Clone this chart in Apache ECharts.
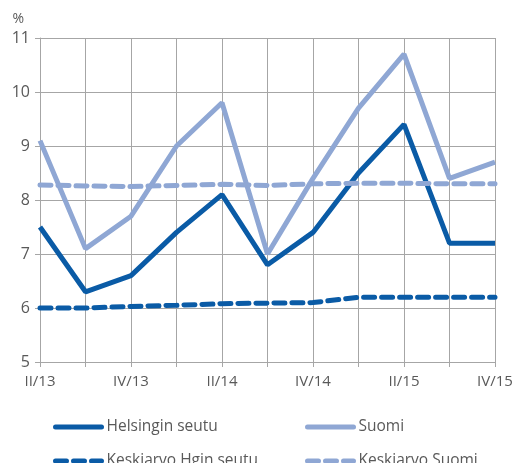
<!DOCTYPE html>
<html>
<head>
<meta charset="utf-8">
<script src="https://cdn.jsdelivr.net/npm/echarts@6/dist/echarts.min.js"></script>
<style>
  html, body { margin: 0; padding: 0; background: #fff; }
  #chart { width: 516px; height: 463px; }
</style>
</head>
<body>
<div id="chart"></div>
<script>
  // quarters
  var categories = ['II/13', 'III/13', 'IV/13', 'I/14', 'II/14', 'III/14', 'IV/14', 'I/15', 'II/15', 'III/15', 'IV/15'];
  var helsinki = [7.5, 6.3, 6.6, 7.4, 8.1, 6.8, 7.4, 8.5, 9.4, 7.2, 7.2];
  var suomi = [9.1, 7.1, 7.7, 9.0, 9.8, 7.0, 8.4, 9.7, 10.7, 8.4, 8.7];
  var avgHelsinki = [6.0, 6.0, 6.03, 6.05, 6.08, 6.09, 6.1, 6.2, 6.2, 6.2, 6.2];
  var avgSuomi = [8.28, 8.26, 8.25, 8.27, 8.29, 8.27, 8.3, 8.31, 8.31, 8.3, 8.3];

  var dark = '#0a5ba6';
  var light = '#8fa7d4';
  var textColor = '#595959';
  var font = 'Open Sans';

  function line(name, data, color, dashed) {
    return {
      name: name,
      type: 'line',
      data: data,
      showSymbol: false,
      symbol: 'none',
      lineStyle: {
        color: color,
        width: 5,
        type: dashed ? [11, 7] : 'solid',
        cap: dashed ? 'round' : 'butt'
      },
      itemStyle: { color: color },
      emphasis: { disabled: true }
    };
  }

  function legendItem(name, left, top) {
    return {
      left: left, top: top,
      itemWidth: 46, itemHeight: 14, itemGap: 0,
      itemStyle: { opacity: 0 },
      lineStyle: { width: 5, cap: 'round' },
      textStyle: { color: textColor, fontSize: 15.5, fontFamily: font, padding: [0, 0, 0, 0] },
      data: [name]
    };
  }

  var myChart = echarts.init(document.getElementById('chart'));
  myChart.setOption({
    animation: false,
    textStyle: { fontFamily: font },
    grid: { left: 40, right: 21, top: 38, bottom: 101 },
    legend: [
      legendItem('Helsingin seutu', 48, 414),
      legendItem('Keskiarvo Hgin seutu', 48, 448),
      legendItem('Suomi', 300, 414),
      legendItem('Keskiarvo Suomi', 300, 448)
    ],
    xAxis: {
      type: 'category',
      boundaryGap: false,
      data: categories,
      axisLine: { lineStyle: { color: '#a6a6a6' } },
      axisTick: { show: true, interval: 0, length: 5, lineStyle: { color: '#a6a6a6' } },
      axisLabel: { interval: 1, color: textColor, fontSize: 15, margin: 12 },
      splitLine: { show: true, interval: 0, lineStyle: { color: '#a6a6a6' } }
    },
    yAxis: {
      type: 'value',
      min: 5,
      max: 11,
      interval: 1,
      name: '%',
      nameGap: 12,
      nameTextStyle: { color: textColor, fontSize: 14, align: 'right', padding: [0, 16, 0, 0] },
      axisLine: { show: true, lineStyle: { color: '#a6a6a6' } },
      axisTick: { show: true, length: 5, lineStyle: { color: '#a6a6a6' } },
      axisLabel: { color: textColor, fontSize: 16, margin: 10 },
      splitLine: { show: true, lineStyle: { color: '#a6a6a6' } }
    },
    series: [
      line('Helsingin seutu', helsinki, dark, false),
      line('Suomi', suomi, light, false),
      line('Keskiarvo Hgin seutu', avgHelsinki, dark, true),
      line('Keskiarvo Suomi', avgSuomi, light, true)
    ]
  });
</script>
</body>
</html>
